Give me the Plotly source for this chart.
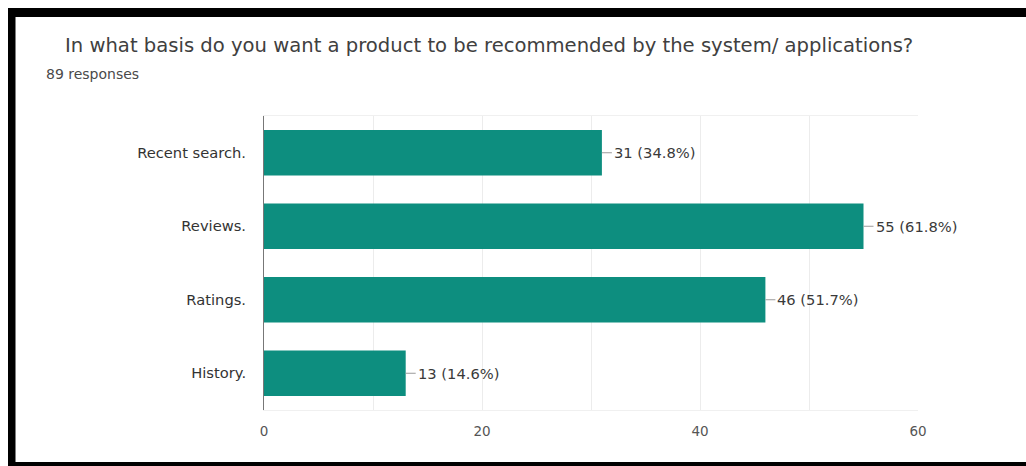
import plotly.graph_objects as go

categories = ["Recent search.", "Reviews.", "Ratings.", "History."]
counts = [31, 55, 46, 13]
percents = ["34.8%", "61.8%", "51.7%", "14.6%"]
title_text = "In what basis do you want a product to be recommended by the system/ applications?"
subtitle_text = "89 responses"
x_ticks = [0, 20, 40, 60]

W, H = 1026, 466
ML, MR, MT, MB = 264, 108, 116, 56
PW, PH = W - ML - MR, H - MT - MB

def px(x):
    return (x - ML) / PW

def py(y):
    return (H - MB - y) / PH

BAR = "#0d8e7f"
FONT = "DejaVu Sans"

fig = go.Figure()
fig.add_trace(go.Bar(
    y=categories, x=counts, orientation="h",
    marker=dict(color=BAR, line=dict(width=0)),
    hoverinfo="skip",
))

for c, v, p in zip(categories, counts, percents):
    fig.add_annotation(
        x=v, y=c, xref="x", yref="y",
        text=f"{v} ({p})", showarrow=True, arrowhead=0, arrowwidth=1,
        arrowcolor="#9a9a9a", ax=10, ay=0, xanchor="left", standoff=0,
        font=dict(family=FONT, size=14.7, color="#3a3a3a"),
    )

# title and subtitle
fig.add_annotation(
    x=px(63), y=py(46), xref="paper", yref="paper", xanchor="left", yanchor="middle",
    text=title_text, showarrow=False,
    font=dict(family=FONT, size=19.6, color="#404040"),
)
fig.add_annotation(
    x=px(44), y=py(74), xref="paper", yref="paper", xanchor="left", yanchor="middle",
    text=subtitle_text, showarrow=False,
    font=dict(family=FONT, size=14, color="#4a4a4a"),
)

# black frame bands of the screenshot
shapes = [
    dict(type="rect", xref="paper", yref="paper", x0=px(8), x1=px(W), y0=py(17), y1=py(8),
         fillcolor="black", line=dict(width=0), layer="above"),
    dict(type="rect", xref="paper", yref="paper", x0=px(8), x1=px(15.5), y0=py(H), y1=py(8),
         fillcolor="black", line=dict(width=0), layer="above"),
    dict(type="rect", xref="paper", yref="paper", x0=px(8), x1=px(W), y0=py(H), y1=py(462),
         fillcolor="black", line=dict(width=0), layer="above"),
]

fig.update_layout(
    width=W, height=H,
    margin=dict(l=ML, r=MR, t=MT, b=MB, pad=0),
    paper_bgcolor="white", plot_bgcolor="white",
    showlegend=False, bargap=0.38,
    shapes=shapes,
    xaxis=dict(
        range=[0, 60], tickvals=x_ticks, ticktext=[str(t) for t in x_ticks],
        showgrid=False, zeroline=False, showline=True, mirror=True,
        linecolor="#f0f0f0", linewidth=1,
        tickfont=dict(family=FONT, size=13.5, color="#555555"),
        ticks="", ticklabelstandoff=9,
        minor=dict(dtick=10, showgrid=True, gridcolor="#ececec", gridwidth=1),
    ),
    yaxis=dict(
        categoryorder="array", categoryarray=categories[::-1],
        showgrid=False, zeroline=False, showline=True, linecolor="#777777", linewidth=1,
        tickfont=dict(family=FONT, size=14.7, color="#333333"),
        ticks="", ticklabelstandoff=14,
    ),
)

fig.write_html("out.html")
